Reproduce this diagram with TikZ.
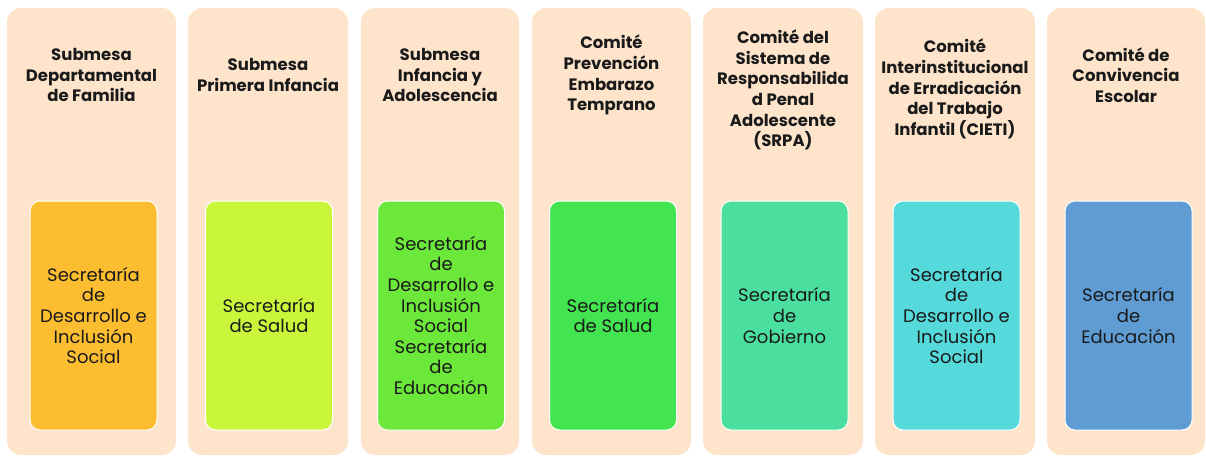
\documentclass[tikz,border=0pt]{standalone}
\usepackage{fontspec}
\setmainfont{Poppins}
\definecolor{peach}{HTML}{FDE4CB}
\definecolor{cA}{HTML}{FDBD30}
\definecolor{cB}{HTML}{C9F53B}
\definecolor{cC}{HTML}{6CE83A}
\definecolor{cD}{HTML}{42E54F}
\definecolor{cE}{HTML}{4ADF9E}
\definecolor{cF}{HTML}{55D9DA}
\definecolor{cG}{HTML}{5E9CD3}
\definecolor{ink}{HTML}{1A1A1A}
\tikzset{
  outerbox/.style={fill=peach, draw=none, rounded corners=14pt, minimum height=447pt, inner sep=0pt},
  titletext/.style={text=ink, align=center, font=\bfseries\fontsize{16.5}{20.7}\selectfont, inner sep=0pt},
  innerbox/.style={draw=white, line width=1pt, rounded corners=10pt, minimum width=127pt, minimum height=229pt, align=center, text=ink, font=\fontsize{18}{20.6}\selectfont, inner sep=0pt}
}
\begin{document}
\begin{tikzpicture}[x=1pt,y=1pt]
\useasboundingbox[fill=white] (0,0) rectangle (1206,-456);
% outer columns
\node[outerbox, minimum width=169pt] (o1) at (91.5,-231.5) {};
\node[outerbox, minimum width=160pt] (o2) at (268,-231.5) {};
\node[outerbox, minimum width=158pt] (o3) at (440,-231.5) {};
\node[outerbox, minimum width=159pt] (o4) at (611.5,-231.5) {};
\node[outerbox, minimum width=160pt] (o5) at (783,-231.5) {};
\node[outerbox, minimum width=160pt] (o6) at (955,-231.5) {};
\node[outerbox, minimum width=158pt] (o7) at (1126,-231.5) {};
% titles
\node[titletext] (t1) at (91.5,-75) {Submesa\\Departamental\\de Familia};
\node[titletext] (t2) at (268,-75) {Submesa\\Primera Infancia};
\node[titletext] (t3) at (440,-75) {Submesa\\Infancia y\\Adolescencia};
\node[titletext] (t4) at (611.5,-75) {Comité\\Prevención\\Embarazo\\Temprano};
\node[titletext] (t5) at (783,-90) {Comité del\\Sistema de\\Responsabilida\\d Penal\\Adolescente\\(SRPA)};
\node[titletext] (t6) at (955,-89) {Comité\\Interinstitucional\\de Erradicación\\del Trabajo\\Infantil (CIETI)};
\node[titletext] (t7) at (1126,-75) {Comité de\\Convivencia\\Escolar};
% inner boxes
\node[innerbox, fill=cA] (i1) at (93.5,-315.5) {Secretaría\\de\\Desarrollo e\\Inclusión\\Social};
\node[innerbox, fill=cB] (i2) at (269,-315.5) {Secretaría\\de Salud};
\node[innerbox, fill=cC] (i3) at (441,-315.5) {Secretaría\\de\\Desarrollo e\\Inclusión\\Social\\Secretaría\\de\\Educación};
\node[innerbox, fill=cD] (i4) at (613,-315.5) {Secretaría\\de Salud};
\node[innerbox, fill=cE] (i5) at (784.5,-315.5) {Secretaría\\de\\Gobierno};
\node[innerbox, fill=cF] (i6) at (956.5,-315.5) {Secretaría\\de\\Desarrollo e\\Inclusión\\Social};
\node[innerbox, fill=cG] (i7) at (1128.5,-315.5) {Secretaría\\de\\Educación};
\end{tikzpicture}
\end{document}
